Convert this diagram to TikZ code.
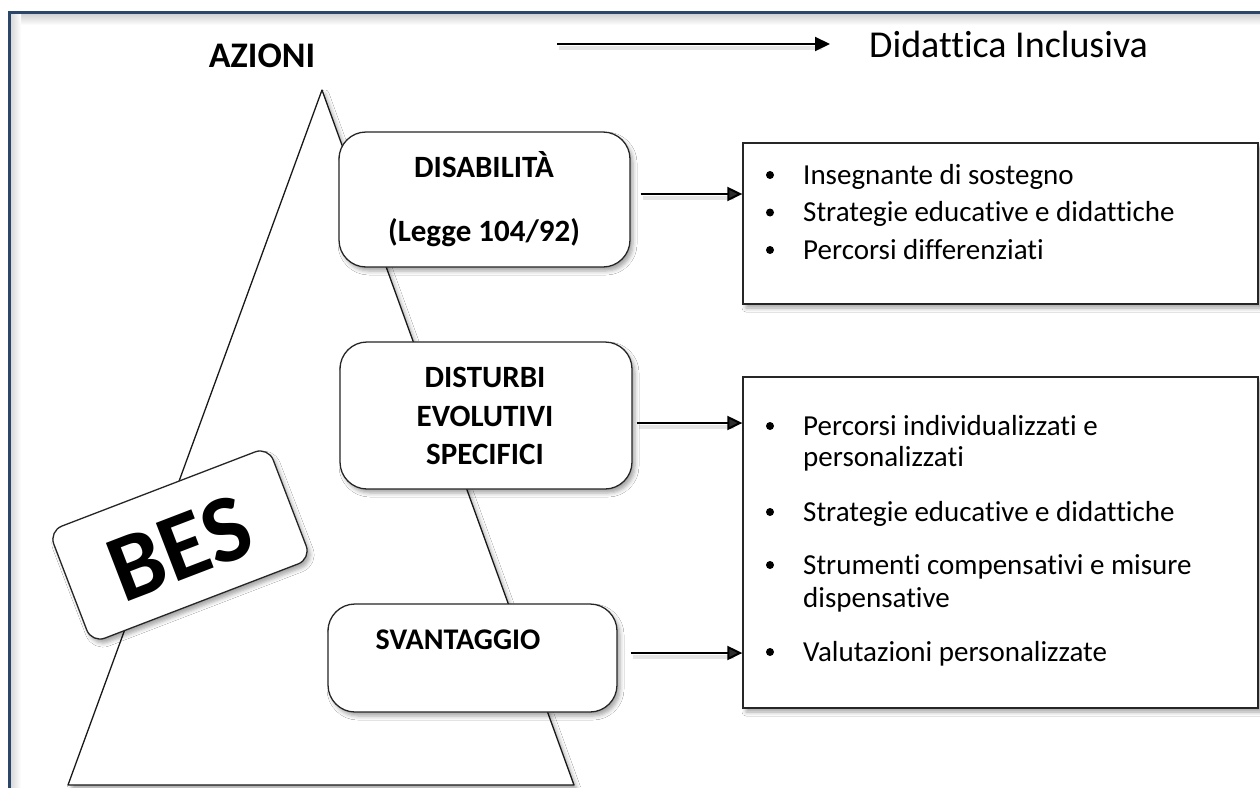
\documentclass[tikz,border=0pt]{standalone}
\usepackage{fontspec}
\setmainfont[Ligatures=NoCommon]{Carlito}
\usetikzlibrary{arrows.meta,shadows.blur,calc}
\definecolor{framenavy}{HTML}{2A4769}
\begin{document}
\begin{tikzpicture}[x=1pt,y=-1pt,
  softshadow/.style={blur shadow={shadow xshift=3pt,shadow yshift=-4pt,shadow blur radius=4pt,shadow opacity=35}},
  catbox/.style={draw=black!85,line width=1.3pt,fill=white,rounded corners=27pt,softshadow,inner sep=0pt},
  listbox/.style={draw=black!85,line width=1.3pt,fill=white,softshadow,inner sep=0pt},
  catlabel/.style={anchor=base,inner sep=0pt,font=\fontsize{31}{36}\selectfont\bfseries},
  itemtext/.style={anchor=base west,inner sep=0pt,font=\fontsize{29}{35}\selectfont},
  dot/.style={circle,fill=black,inner sep=0pt,minimum size=8pt},
  arr/.style={line width=2pt,-{Triangle[length=15pt,width=14pt]}},
  arrshade/.style={line width=4pt,black,opacity=0.10},
]
\useasboundingbox (0,0) rectangle (1260,787);
\clip (0,0) rectangle (1260,787);
\fill[white] (0,0) rectangle (1260,787);

% frame with a soft inner shadow
\shade[top color=black!20,bottom color=white] (10,13) rectangle (1260,25);
\shade[left color=black!16,right color=white] (10,13) rectangle (21,787);
\draw[framenavy,line width=3pt] (9,800) -- (9,12.5) -- (1275,12.5);

% titles
\node[anchor=base,inner sep=0pt,font=\fontsize{36}{40}\selectfont\bfseries] (azioni) at (262,67) {AZIONI};
\node[anchor=base west,inner sep=0pt,font=\fontsize{38}{44}\selectfont] (didattica) at (869,57) {Didattica Inclusiva};
\coordinate (ta) at (557,44);
\coordinate (tb) at (830,44);
\draw[arrshade] ($(ta)+(2,4)$) -- ($(tb)+(-8,4)$);
\draw[arr] (ta) -- (tb);

% pyramid
\path[draw=black!90,line width=1.3pt,fill=white,softshadow,line join=round] (322,90) -- (574,785) -- (68,785) -- cycle;

% category boxes
\node[catbox,minimum width=291pt,minimum height=135pt] (dis) at (484.5,199.5) {};
\node[catlabel] (disA) at (484,177) {DISABILITÀ};
\node[catlabel] (disB) at (484,241) {(Legge 104/92)};

\node[catbox,minimum width=292pt,minimum height=147pt] (dse) at (486,415.5) {};
\node[catlabel] (dseA) at (485,387) {DISTURBI};
\node[catlabel] (dseB) at (485,426) {EVOLUTIVI};
\node[catlabel] (dseC) at (485,464) {SPECIFICI};

\node[catbox,minimum width=289pt,minimum height=108pt] (sva) at (472.5,658) {};
\node[catlabel,font=\fontsize{30}{36}\selectfont\bfseries] (svaA) at (458,649) {SVANTAGGIO};

% BES tag
\node[draw=black!85,line width=1.3pt,fill=white,rounded corners=14pt,softshadow,
      minimum width=235pt,minimum height=120pt,rotate=21] (bes) at (180,545) {};
\node[inner sep=0pt,rotate=21,font=\fontsize{96}{98}\selectfont\bfseries] (bestext) at (180,548) {BES};

% action boxes
\node[listbox,minimum width=515pt,minimum height=161pt] (r1) at (1000.5,223.5) {};
\node[listbox,minimum width=515pt,minimum height=331pt] (r2) at (1000.5,542.5) {};

\node[dot] (b1) at (770,175) {};
\node[itemtext] (t1) at (803,184) {Insegnante di sostegno};
\node[dot] (b2) at (770,212.5) {};
\node[itemtext] (t2) at (803,221.5) {Strategie educative e didattiche};
\node[dot] (b3) at (770,250) {};
\node[itemtext] (t3) at (803,259) {Percorsi differenziati};

\node[dot] (b4) at (770,426) {};
\node[itemtext] (t4) at (803,435) {Percorsi individualizzati e};
\node[itemtext] (t4b) at (803,466) {personalizzati};
\node[dot] (b5) at (770,512) {};
\node[itemtext] (t5) at (803,521) {Strategie educative e didattiche};
\node[dot] (b6) at (770,565) {};
\node[itemtext] (t6) at (803,574) {Strumenti compensativi e misure};
\node[itemtext] (t6b) at (803,607) {dispensative};
\node[dot] (b7) at (770,652) {};
\node[itemtext] (t7) at (803,661) {Valutazioni personalizzate};

% connectors
\coordinate (s1) at ($(dis.east)+(10,-5.5)$);
\coordinate (s2) at ($(dse.east)+(4,7.5)$);
\coordinate (s3) at ($(sva.east)+(13,-5)$);
\foreach \s/\r in {s1/r1,s2/r2,s3/r2}{
  \draw[arrshade] ($(\s)+(2,4)$) -- ($(\s -| \r.west)+(-8,4)$);
  \draw[arr] (\s) -- (\s -| \r.west);
}
\end{tikzpicture}
\end{document}
